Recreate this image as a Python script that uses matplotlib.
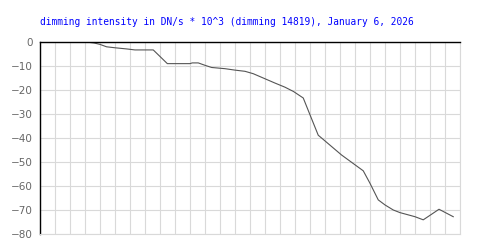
import matplotlib
matplotlib.use("Agg")
import matplotlib.pyplot as plt

# positions along the x grid (one unit = one grid column) and dimming values
t_idx = [3.07, 3.6, 4.0, 4.44, 5.0, 5.8, 6.33, 7.55, 8.49, 9.33, 10.0, 10.15, 10.55,
         11.0, 11.44, 12.33, 13.0, 13.67, 14.22, 15.0, 15.67, 16.33, 16.9, 17.55,
         18.0, 18.55, 18.78, 19.44, 20.1, 21.0, 21.55, 22.0, 22.55, 23.0, 23.55,
         24.0, 25.0, 25.55, 26.1, 26.6, 27.55]
dimming = [0.0, -0.4, -1.0, -2.0, -2.4, -2.9, -3.3, -3.3, -9.0, -9.0, -9.0, -8.7, -8.7,
           -9.7, -10.6, -11.1, -11.7, -12.2, -13.2, -15.3, -17.1, -18.8, -20.6, -23.3,
           -30.3, -38.8, -40.0, -43.5, -47.0, -51.1, -53.6, -58.8, -65.7, -67.8, -69.9,
           -71.0, -72.7, -74.0, -71.7, -69.6, -72.7]

yticks = [0, -10, -20, -30, -40, -50, -60, -70, -80]

fig = plt.figure(figsize=(5, 2.5), dpi=100)
ax = fig.add_axes([0.08, 0.063, 0.84, 0.769])

ax.plot(t_idx, dimming, color='#555555', linewidth=0.8, zorder=2)

ax.set_xlim(0, 28)
ax.set_ylim(-80, 0)
ax.set_xticks(range(0, 29))
ax.set_yticks(yticks)
ax.set_yticklabels([str(v).replace('-', '\u2212') for v in yticks])
ax.tick_params(axis='x', length=0, labelbottom=False)
ax.tick_params(axis='y', length=0, pad=5, labelsize=7.5, labelcolor='#666666')
ax.grid(True, color='#d9d9d9', linewidth=0.8, zorder=0)
ax.set_axisbelow(True)

for side in ['bottom', 'right']:
    ax.spines[side].set_color('#d9d9d9')
    ax.spines[side].set_linewidth(0.8)
for side in ['top', 'left']:
    ax.spines[side].set_color('black')
    ax.spines[side].set_linewidth(1.0)

fig.text(0.079, 0.912, 'dimming intensity in DN/s * 10^3 (dimming 14819), January 6, 2026',
         color='#0000ff', fontsize=6.85, family='DejaVu Sans Mono', va='center', ha='left')

fig.savefig('out.png', dpi=100, facecolor='white')
